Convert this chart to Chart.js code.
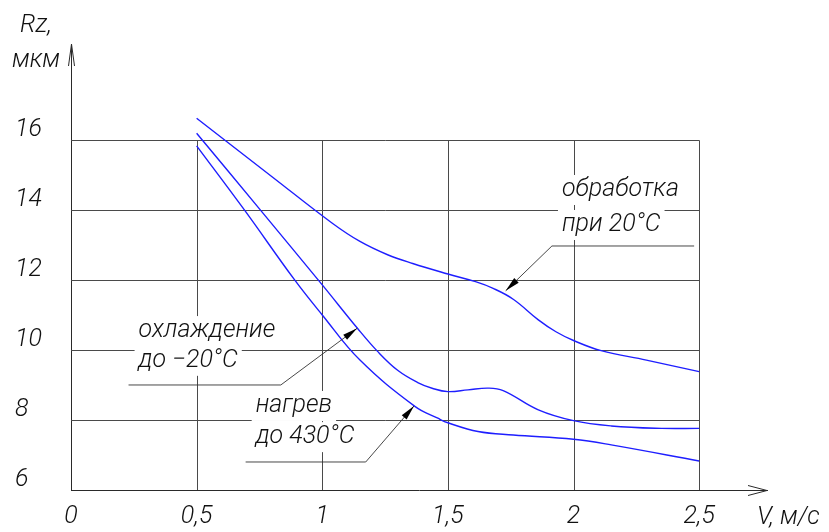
<!DOCTYPE html>
<html>
<head>
<meta charset="utf-8">
<script src="https://cdn.jsdelivr.net/npm/chart.js@4.4.1/dist/chart.umd.min.js"></script>
<style>
  html, body { margin: 0; padding: 0; background: #fff; }
  #wrap { width: 829px; height: 532px; }
</style>
</head>
<body>
<div id="wrap"><canvas id="chart"></canvas></div>
<script>
// Rz (мкм) against cutting speed V (м/с)
// обработка при 20°C
const vA = [0.5, 0.8, 1.04, 1.15, 1.26, 1.36, 1.5, 1.61, 1.68, 1.76, 1.86, 1.93, 2.0, 2.11, 2.29, 2.5];
const rzA = [16.62, 14.95, 13.62, 13.1, 12.72, 12.47, 12.17, 11.95, 11.76, 11.45, 10.86, 10.52, 10.27, 9.98, 9.71, 9.38];
// охлаждение до -20°C
const vB = [0.5, 0.75, 1.0, 1.14, 1.22, 1.3, 1.38, 1.44, 1.5, 1.58, 1.66, 1.72, 1.86, 2.0, 2.15, 2.35, 2.5];
const rzB = [16.19, 14.03, 11.86, 10.62, 9.96, 9.42, 9.07, 8.9, 8.81, 8.86, 8.91, 8.84, 8.29, 7.98, 7.83, 7.76, 7.76];
// нагрев до 430°C
const vC = [0.5, 0.69, 0.89, 1.0, 1.15, 1.37, 1.46, 1.5, 1.62, 1.76, 2.0, 2.15, 2.5];
const rzC = [15.83, 14.0, 12.0, 11.0, 9.71, 8.38, 8.05, 7.92, 7.67, 7.57, 7.45, 7.29, 6.83];

// tick values
const xTicks = [0, 0.5, 1, 1.5, 2, 2.5];
const yTicks = [6, 8, 10, 12, 14, 16];

const FONT = 'Roboto, "Liberation Sans Narrow", "DejaVu Sans Condensed", sans-serif';
const INK = "#2a2a2a";
const BLUE = "rgb(30, 30, 255)";

// callouts: text lines (left edge, middle), leader path ending at the arrow tip
const notes = [
  {
    lines: [["обработка", 1.954, 14.57], ["при 20°C", 1.954, 13.57]],
    path: [[2.48, 12.97], [1.914, 12.97], [1.73, 11.69]],
  },
  {
    lines: [["охлаждение", 0.269, 10.54], ["до −20°C", 0.269, 9.69]],
    path: [[0.229, 9.0], [0.835, 9.0], [1.139, 10.62]],
  },
  {
    lines: [["нагрев", 0.735, 8.4], ["до 430°C", 0.735, 7.51]],
    path: [[0.695, 6.8], [1.173, 6.8], [1.365, 8.4]],
  },
];

function toPoints(xs, ys) {
  return xs.map((x, i) => ({ x: x, y: ys[i] }));
}

function commaLabel(v) {
  return String(v).replace(".", ",");
}

// grid, callout text, leaders and axis arrows
const drawingPlugin = {
  id: "drawing",
  beforeDatasetsDraw(chart) {
    const ctx = chart.ctx;
    const xs = chart.scales.x;
    const ys = chart.scales.y;
    const xEnd = xTicks[xTicks.length - 1];
    const yEnd = yTicks[yTicks.length - 1];

    ctx.save();
    ctx.strokeStyle = "#4a4a4a";
    ctx.lineWidth = 1;
    yTicks.slice(1).forEach((v) => {
      const y = Math.round(ys.getPixelForValue(v)) + 0.5;
      ctx.beginPath();
      ctx.moveTo(xs.getPixelForValue(xTicks[0]), y);
      ctx.lineTo(Math.round(xs.getPixelForValue(xEnd)) + 0.5, y);
      ctx.stroke();
    });
    xTicks.slice(1).forEach((v) => {
      const x = Math.round(xs.getPixelForValue(v)) + 0.5;
      ctx.beginPath();
      ctx.moveTo(x, ys.getPixelForValue(yTicks[0]));
      ctx.lineTo(x, Math.round(ys.getPixelForValue(yEnd)) + 0.5);
      ctx.stroke();
    });

    // callout text on white boxes
    ctx.font = "italic 300 25px " + FONT;
    ctx.textBaseline = "middle";
    ctx.textAlign = "left";
    notes.forEach((n) => {
      n.lines.forEach(([text, vx, vy]) => {
        const x = xs.getPixelForValue(vx);
        const y = ys.getPixelForValue(vy);
        const w = ctx.measureText(text).width;
        ctx.fillStyle = "#fff";
        ctx.fillRect(x - 4, y - 15, w + 8, 30);
        ctx.fillStyle = "#111";
        ctx.fillText(text, x, y);
      });
    });
    ctx.restore();
  },
  afterDatasetsDraw(chart) {
    const ctx = chart.ctx;
    const xs = chart.scales.x;
    const ys = chart.scales.y;
    const area = chart.chartArea;

    ctx.save();
    // leaders
    notes.forEach((n) => {
      const pts = n.path.map(([vx, vy]) => [xs.getPixelForValue(vx), ys.getPixelForValue(vy)]);
      ctx.strokeStyle = "#333";
      ctx.lineWidth = 0.9;
      ctx.beginPath();
      pts.forEach(([x, y], i) => (i ? ctx.lineTo(x, y) : ctx.moveTo(x, y)));
      ctx.stroke();
      const [tx, ty] = pts[pts.length - 1];
      const [sx, sy] = pts[pts.length - 2];
      const ang = Math.atan2(ty - sy, tx - sx);
      const len = 15;
      const half = 3.2;
      ctx.fillStyle = "#000";
      ctx.beginPath();
      ctx.moveTo(tx, ty);
      ctx.lineTo(tx - len * Math.cos(ang) - half * Math.sin(ang), ty - len * Math.sin(ang) + half * Math.cos(ang));
      ctx.lineTo(tx - len * Math.cos(ang) + half * Math.sin(ang), ty - len * Math.sin(ang) - half * Math.cos(ang));
      ctx.closePath();
      ctx.fill();
    });

    // axis arrows
    ctx.strokeStyle = INK;
    ctx.lineWidth = 1;
    const left = Math.round(area.left) + 0.5;
    const bottom = Math.round(area.bottom) + 0.5;
    ctx.beginPath();
    ctx.moveTo(left - 3, area.top + 22);
    ctx.lineTo(left, area.top);
    ctx.lineTo(left + 3, area.top + 22);
    ctx.stroke();
    ctx.beginPath();
    ctx.moveTo(area.right - 19, bottom - 5);
    ctx.lineTo(area.right, bottom);
    ctx.lineTo(area.right - 19, bottom + 5);
    ctx.stroke();

    // axis names
    ctx.fillStyle = "#111";
    ctx.font = "italic 300 25px " + FONT;
    ctx.textBaseline = "middle";
    ctx.textAlign = "left";
    ctx.fillText("Rz,", area.left - 51, 26);
    ctx.fillText("мкм", area.left - 59, 61);
    ctx.fillText("V, м/с", area.right - 10, 518);
    ctx.restore();
  },
};

const lineStyle = {
  borderColor: BLUE,
  borderWidth: 1.4,
  pointRadius: 0,
  fill: false,
  tension: 0.4,
};

new Chart(document.getElementById("chart"), {
  type: "line",
  data: {
    datasets: [
      { label: "обработка при 20°C", data: toPoints(vA, rzA), ...lineStyle },
      { label: "охлаждение до -20°C", data: toPoints(vB, rzB), ...lineStyle },
      { label: "нагрев до 430°C", data: toPoints(vC, rzC), ...lineStyle },
    ],
  },
  options: {
    responsive: true,
    maintainAspectRatio: false,
    animation: false,
    layout: {
      padding: { left: 15, top: 44, right: 62, bottom: 0 },
    },
    plugins: {
      legend: { display: false },
      tooltip: { enabled: false },
    },
    scales: {
      x: {
        type: "linear",
        min: 0,
        max: 2.77,
        afterBuildTicks: (scale) => {
          scale.ticks = xTicks.map((v) => ({ value: v }));
        },
        afterFit: (scale) => {
          scale.height = 42;
        },
        grid: { display: false, drawTicks: false },
        border: { display: true, color: INK, width: 1 },
        ticks: {
          padding: 12,
          maxRotation: 0,
          autoSkip: false,
          color: "#111",
          font: { family: FONT, size: 25, style: "italic", weight: 300 },
          callback: (v) => commaLabel(v),
        },
      },
      y: {
        type: "linear",
        min: 6,
        max: 18.74,
        afterBuildTicks: (scale) => {
          scale.ticks = yTicks.map((v) => ({ value: v }));
        },
        afterFit: (scale) => {
          scale.width = 56;
        },
        grid: { display: false, drawTicks: false },
        border: { display: true, color: INK, width: 1 },
        ticks: {
          crossAlign: "far",
          labelOffset: -10,
          padding: 0,
          autoSkip: false,
          color: "#111",
          font: { family: FONT, size: 25, style: "italic", weight: 300 },
          callback: (v) => commaLabel(v),
        },
      },
    },
  },
  plugins: [drawingPlugin],
});
</script>
</body>
</html>
